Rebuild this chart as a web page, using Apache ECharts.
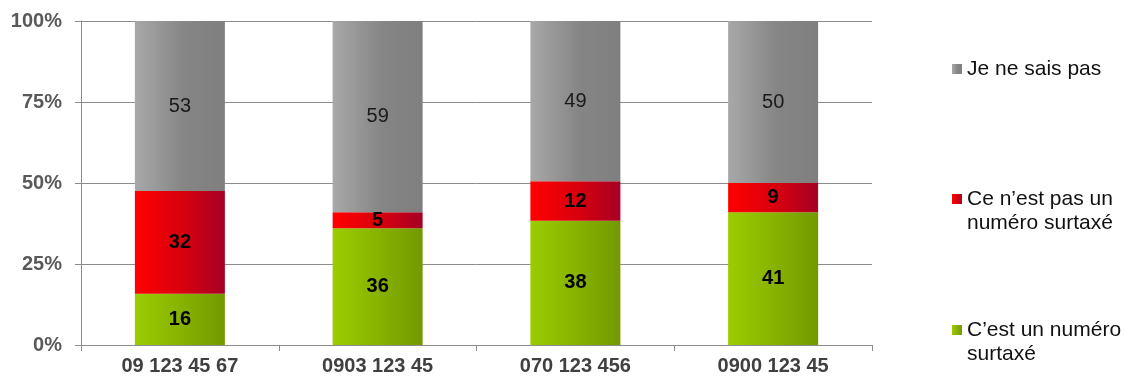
<!DOCTYPE html>
<html>
<head>
<meta charset="utf-8">
<script src="https://cdn.jsdelivr.net/npm/echarts@6/dist/echarts.min.js"></script>
<style>
html,body{margin:0;padding:0;background:#fff;}
#chart{width:1126px;height:379px;}
</style>
</head>
<body>
<div id="chart"></div>
<script>
const categories = ['09 123 45 67', '0903 123 45', '070 123 456', '0900 123 45'];
const surtaxe = [16, 36, 38, 41];
const pasSurtaxe = [32, 5, 12, 9];
const nsp = [53, 59, 49, 50];
const seriesNames = ['C’est un numéro surtaxé', 'Ce n’est pas un numéro surtaxé', 'Je ne sais pas'];
const yTicks = [0, 25, 50, 75, 100];

const totals = categories.map((c, i) => surtaxe[i] + pasSurtaxe[i] + nsp[i]);
const pct = arr => arr.map((v, i) => ({ value: v / totals[i] * 100, raw: v }));

function grad(c1, c2, c3) {
  return new echarts.graphic.LinearGradient(0, 0, 1, 0, [
    { offset: 0, color: c1 },
    { offset: 0.55, color: c2 },
    { offset: 1, color: c3 }
  ]);
}
const FONT = '"Liberation Sans", Arial, sans-serif';

function mkSeries(name, arr, color, bold, labelColor) {
  return {
    name: name,
    type: 'bar',
    stack: 'total',
    barWidth: 90,
    data: pct(arr),
    itemStyle: { color: color },
    label: {
      show: true,
      position: 'inside',
      formatter: p => String(p.data.raw),
      fontFamily: FONT,
      fontSize: 20,
      fontWeight: bold ? 'bold' : 'normal',
      color: labelColor
    },
    emphasis: { disabled: true }
  };
}

const legendBase = {
  orient: 'vertical',
  left: 952,
  padding: 0,
  icon: 'rect',
  itemWidth: 10,
  itemHeight: 10,
  itemGap: 0,
  selectedMode: false,
  textStyle: { fontFamily: FONT, fontSize: 21, color: '#111', lineHeight: 24 }
};

const chart = echarts.init(document.getElementById('chart'), null, { renderer: 'canvas' });
chart.setOption({
  animation: false,
  backgroundColor: '#fff',
  grid: { left: 81, right: 254, top: 21, bottom: 34, containLabel: false },
  legend: [
    Object.assign({}, legendBase, { top: 57, data: [seriesNames[2]],
      formatter: () => 'Je ne sais pas' }),
    Object.assign({}, legendBase, { top: 163, data: [seriesNames[1]],
      formatter: () => ' \nCe n’est pas un\nnuméro surtaxé' }),
    Object.assign({}, legendBase, { top: 294, data: [seriesNames[0]],
      formatter: () => ' \nC’est un numéro\nsurtaxé' })
  ],
  xAxis: {
    type: 'category',
    data: categories,
    axisLine: { lineStyle: { color: '#8c8c8c', width: 1 } },
    axisTick: { show: true, alignWithLabel: false, length: 6, lineStyle: { color: '#8c8c8c' } },
    axisLabel: { fontFamily: FONT, fontSize: 20, fontWeight: 'bold', color: '#404040', margin: 11 }
  },
  yAxis: {
    type: 'value',
    min: 0,
    max: 100,
    interval: 25,
    axisLine: { show: true, lineStyle: { color: '#8c8c8c', width: 1 } },
    axisTick: { show: true, length: 6, lineStyle: { color: '#8c8c8c' } },
    splitLine: { show: true, lineStyle: { color: '#8c8c8c', width: 1 } },
    axisLabel: {
      fontFamily: FONT, fontSize: 20, fontWeight: 'bold', color: '#595959', margin: 19,
      formatter: v => (yTicks.indexOf(v) >= 0 ? v + '%' : '')
    }
  },
  series: [
    mkSeries(seriesNames[0], surtaxe, grad('#9acd00', '#86b000', '#739900'), true, '#000'),
    mkSeries(seriesNames[1], pasSurtaxe, grad('#ff0000', '#d6000f', '#a50024'), true, '#000'),
    mkSeries(seriesNames[2], nsp, grad('#a8a8a8', '#858585', '#7f7f7f'), false, '#1a1a1a')
  ]
});
</script>
</body>
</html>
